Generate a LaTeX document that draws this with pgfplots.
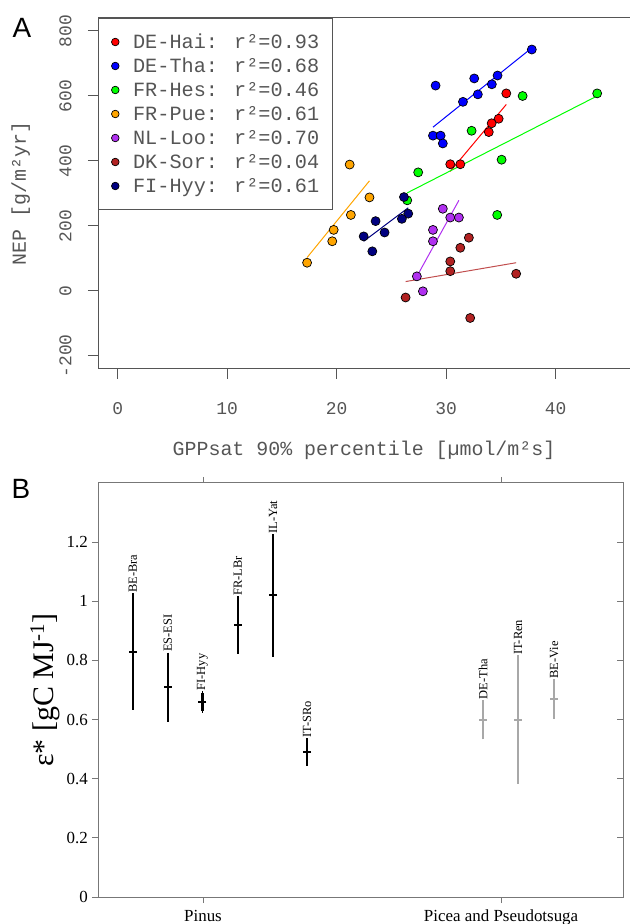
\documentclass[border=0pt]{standalone}
\usepackage{pgfplots}
\usepackage{pgfplotstable}
\pgfplotsset{compat=1.18}
\usepackage{fontspec}
\setmainfont{Liberation Serif}
\newfontfamily\monof{Liberation Mono}
\newfontfamily\sansf{Liberation Sans}
\definecolor{cHai}{HTML}{FF0000}
\definecolor{cTha}{HTML}{0000FF}
\definecolor{cHes}{HTML}{00FF00}
\definecolor{cPue}{HTML}{FFA500}
\definecolor{cLoo}{HTML}{B030F0}
\definecolor{cSor}{HTML}{B22222}
\definecolor{cHyy}{HTML}{000080}
\definecolor{axgray}{HTML}{555555}
\definecolor{txtgray}{HTML}{555555}
\definecolor{bgray}{HTML}{777777}
\definecolor{sitegray}{HTML}{A8A8A8}
\pgfplotsset{pt/.style={only marks, mark=*, mark size=4.5bp, mark options={draw=black, line width=0.7bp, fill=#1}}}
\pgfplotstableread{
x c e hi lab
0.765 0.83 0.19 1.02 BE-Bra
0.882 0.71 0.11 0.82 ES-ESI
0.998 0.66 0.03 0.69 FI-Hyy
1.117 0.92 0.09 1.01 FR-LBr
1.235 1.02 0.20 1.22 IL-Yat
1.349 0.49 0.04 0.53 IT-SRo
}\pinus
\pgfplotstableread{
x c e hi lab
1.940 0.60 0.06 0.66 DE-Tha
2.057 0.60 0.21 0.81 IT-Ren
2.178 0.67 0.06 0.73 BE-Vie
}\picea
\begin{document}
\begin{tikzpicture}
\useasboundingbox (0bp,0bp) rectangle (630bp,924bp);
\node[font=\sansf\fontsize{28}{28}\selectfont, anchor=center] at (22bp,896bp) {A};
\node[font=\sansf\fontsize{28}{28}\selectfont, anchor=center] at (21bp,435bp) {B};
% ---------------- Panel A
\begin{axis}[
  at={(98bp,555bp)}, anchor=south west,
  scale only axis, width=532bp, height=351bp,
  xmin=-1.8, xmax=46.8, ymin=-240, ymax=840,
  axis line style={draw=axgray, line width=1bp},
  tick style={draw=axgray, line width=1bp},
  tick align=outside, major tick length=10bp,
  xtick pos=bottom, ytick pos=left,
  xtick={0,10,20,30,40}, xticklabels={0,10,20,30,40},
  ytick={-200,0,200,400,600,800}, yticklabels={-200,0,200,400,600,800},
  ticklabel style={font=\monof\fontsize{18}{18}\selectfont, text=txtgray, inner sep=0pt},
  xticklabel style={anchor=base, yshift=-36bp},
  yticklabel style={xshift=-16.5bp, rotate=90, anchor=base},
  xlabel={GPPsat 90\% percentile [µmol/m²s]},
  ylabel={NEP [g/m²yr]},
  every axis x label/.style={at={(rel axis cs:0.5,0)}, anchor=base, yshift=-87bp, font=\monof\fontsize{20}{20}\selectfont, text=txtgray},
  every axis y label/.style={at={(rel axis cs:0,0.5)}, xshift=-72bp, rotate=90, anchor=base, font=\monof\fontsize{20}{20}\selectfont, text=txtgray},
  legend cell align=left,
  legend style={at={(rel axis cs:0,1)}, anchor=north west, draw=axgray, line width=1bp, fill=white,
    inner xsep=13bp, inner ysep=12bp, row sep=1bp,
    font=\monof\fontsize{20.3}{20.3}\selectfont, text=txtgray,
    nodes={inner sep=0pt, text height=18bp, text depth=5bp},
    /tikz/every odd column/.append style={column sep=14bp}},
  legend image code/.code={\draw[#1] plot coordinates {(0bp,0bp)};},
  legend image post style={mark size=3.8bp},
]
\addplot[pt=cHai] coordinates {(35.5,608) (34.8,530) (34.16,516) (33.9,489) (30.38,390) (31.3,390)};
\addlegendentry{DE-Hai: r²=0.93}
\addplot[pt=cTha] coordinates {(37.83,743) (32.57,654) (34.7,663) (34.18,636) (32.9,605) (31.54,582) (29.04,632) (28.8,478) (29.5,478) (29.7,454)};
\addlegendentry{DE-Tha: r²=0.68}
\addplot[pt=cHes] coordinates {(43.8,608) (36.99,600) (32.33,493) (35.07,404) (27.45,365) (26.45,279) (34.67,234)};
\addlegendentry{FR-Hes: r²=0.46}
\addplot[pt=cPue] coordinates {(21.19,389) (23.0,288) (21.3,234) (19.73,188) (19.6,153) (17.3,87)};
\addlegendentry{FR-Pue: r²=0.61}
\addplot[pt=cLoo] coordinates {(29.7,253) (30.38,226) (31.17,226) (28.8,188) (28.8,153) (27.33,45) (27.88,-1)};
\addlegendentry{NL-Loo: r²=0.70}
\addplot[pt=cSor] coordinates {(32.08,164) (31.3,133) (30.38,91) (30.38,61) (36.4,53) (26.3,-20) (32.2,-83)};
\addlegendentry{DK-Sor: r²=0.04}
\addplot[pt=cHyy] coordinates {(26.15,289) (26.54,238) (25.96,222) (23.56,215) (24.38,180) (22.47,168) (23.26,122)};
\addlegendentry{FI-Hyy: r²=0.61}
% regression lines
\addplot[cHai, line width=1bp, forget plot] coordinates {(30.38,368) (35.5,574)};
\addplot[cTha, line width=1bp, forget plot] coordinates {(28.8,504) (37.83,748)};
\addplot[cHes, line width=1bp, forget plot] coordinates {(26.45,302) (43.8,600)};
\addplot[cPue, line width=1bp, forget plot] coordinates {(17.3,103) (23.0,339)};
\addplot[cLoo, line width=1bp, forget plot] coordinates {(27.33,45) (31.17,279)};
\addplot[cSor!80!white, line width=1bp, forget plot] coordinates {(26.3,29) (36.4,87)};
\addplot[cHyy, line width=1bp, forget plot] coordinates {(22.47,153) (26.54,256)};
\end{axis}
% ---------------- Panel B
\begin{axis}[
  at={(98bp,27bp)}, anchor=south west,
  scale only axis, width=525bp, height=414bp,
  xmin=0.6477, xmax=2.409, ymin=0, ymax=1.4,
  axis line style={draw=bgray, line width=1bp},
  tick style={draw=bgray, line width=1bp},
  tick align=outside, major tick length=6bp,
  xtick pos=both, ytick pos=left,
  xtick={1,2}, xticklabels={Pinus, Picea and Pseudotsuga},
  ytick={0,0.2,0.4,0.6,0.8,1,1.2}, yticklabels={0,0.2,0.4,0.6,0.8,1,1.2},
  ticklabel style={font=\fontsize{17}{17}\selectfont, inner sep=0pt},
  xticklabel style={anchor=base, yshift=-18bp},
  yticklabel style={anchor=east, xshift=-4bp},
  ylabel={ε* [gC MJ\textsuperscript{-1}]},
  every axis y label/.style={at={(rel axis cs:0,0.5)}, xshift=-45bp, rotate=90, anchor=base, font=\fontsize{30}{30}\selectfont},
  clip=false,
]
\addplot[black, line width=2.2bp, only marks, mark=-, mark size=4bp, mark options={line width=2bp, line cap=butt},
  error bars/.cd, y dir=both, y explicit, error bar style={line width=2.2bp, line cap=butt},
  error mark=-, error mark options={line width=1.8bp, mark size=2bp, black, line cap=butt}]
  table[x=x, y=c, y error=e] {\pinus};
\addplot[sitegray, line width=2.2bp, only marks, mark=-, mark size=4bp, mark options={line width=2bp, line cap=butt},
  error bars/.cd, y dir=both, y explicit, error bar style={line width=2.2bp, line cap=butt},
  error mark=-, error mark options={line width=1.8bp, mark size=2bp, sitegray, line cap=butt}]
  table[x=x, y=c, y error=e] {\picea};
\addplot[draw=none, mark=none, nodes near coords, point meta=explicit symbolic,
  nodes near coords style={rotate=90, anchor=west, inner sep=2.5bp, font=\fontsize{12.5}{12.5}\selectfont, text=black}]
  table[x=x, y=hi, meta=lab] {\pinus};
\addplot[draw=none, mark=none, nodes near coords, point meta=explicit symbolic,
  nodes near coords style={rotate=90, anchor=west, inner sep=2.5bp, font=\fontsize{12.5}{12.5}\selectfont, text=black}]
  table[x=x, y=hi, meta=lab] {\picea};
\end{axis}
\begin{axis}[
  at={(98bp,27bp)}, anchor=south west,
  scale only axis, width=525bp, height=414bp,
  xmin=0.6477, xmax=2.409, ymin=0, ymax=1.4,
  hide x axis, axis y line*=right, axis line style={draw=none},
  tick style={draw=bgray, line width=1bp},
  tick align=inside, major tick length=6bp,
  ytick={0.2,0.4,0.6,0.8,1,1.2}, yticklabels={},
]
\addplot[draw=none, mark=none] coordinates {(1,0.5)};
\end{axis}
\end{tikzpicture}
\end{document}
